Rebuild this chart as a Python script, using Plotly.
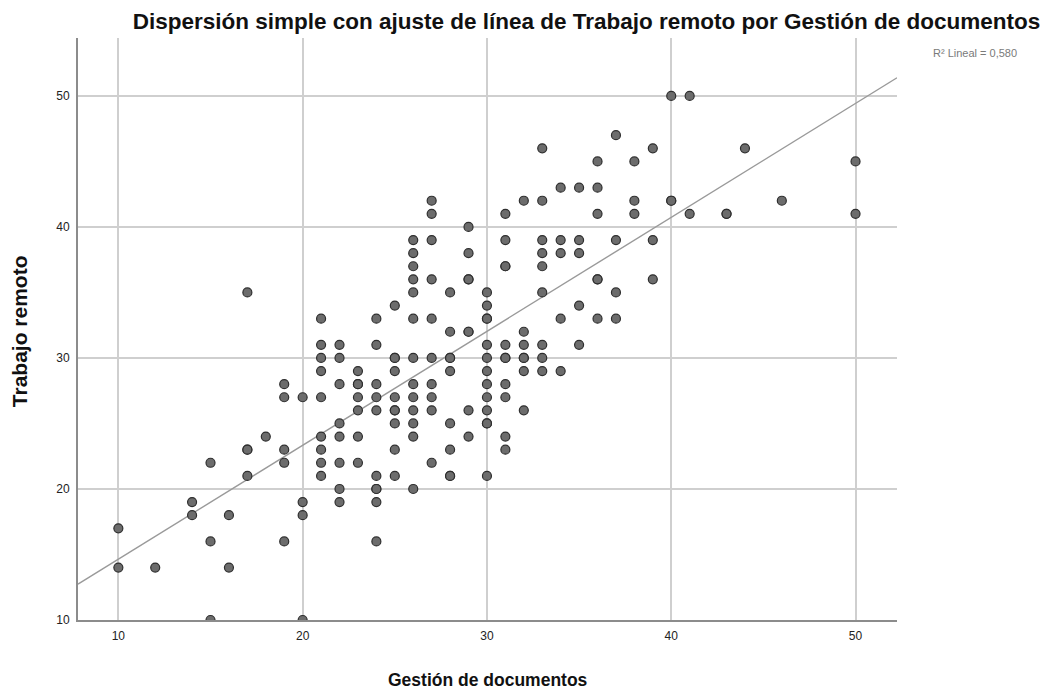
import numpy as np
import plotly.graph_objects as go

# Gestión de documentos (x) -> list of Trabajo remoto (y) values
gestion_cols = [10, 12, 14, 15, 16, 17, 18, 19, 20, 21, 22, 23, 24, 25, 26, 27, 28, 29, 30,
                31, 32, 33, 34, 35, 36, 37, 38, 39, 40, 41, 43, 44, 46, 50]
trabajo_vals = [
    [17, 14],
    [14],
    [19, 18],
    [22, 16, 10],
    [18, 14],
    [35, 23, 23, 21],
    [24],
    [28, 27, 23, 22, 16],
    [27, 19, 18, 10],
    [33, 31, 30, 29, 27, 24, 23, 22, 21],
    [31, 30, 28, 25, 24, 22, 20, 19],
    [29, 28, 28, 27, 26, 24, 22],
    [33, 31, 28, 27, 26, 21, 20, 20, 19, 16],
    [34, 30, 30, 29, 27, 26, 26, 25, 23, 21],
    [39, 38, 37, 36, 35, 33, 30, 28, 27, 26, 25, 24, 20],
    [42, 41, 39, 36, 33, 30, 28, 27, 26, 22],
    [35, 32, 30, 30, 29, 25, 23, 21, 21],
    [40, 38, 36, 36, 32, 32, 26, 24],
    [35, 34, 33, 33, 31, 30, 29, 28, 27, 26, 25, 25, 21],
    [41, 39, 37, 37, 31, 30, 30, 28, 27, 24, 23],
    [42, 32, 31, 30, 30, 29, 26],
    [46, 42, 39, 38, 37, 35, 31, 30, 29],
    [43, 39, 38, 33, 29],
    [43, 39, 38, 34, 31],
    [45, 43, 41, 36, 36, 33],
    [47, 39, 35, 33],
    [45, 42, 41],
    [46, 39, 36],
    [50, 42, 42],
    [50, 41],
    [41, 41],
    [46],
    [42],
    [45, 41],
]

x_ticks = [10, 20, 30, 40, 50]
y_ticks = [10, 20, 30, 40, 50]
title_text = "Dispersión simple con ajuste de línea de Trabajo remoto por Gestión de documentos"
x_title = "Gestión de documentos"
y_title = "Trabajo remoto"
r2_label = "R² Lineal = 0,580"

x = np.array([g for g, ys in zip(gestion_cols, trabajo_vals) for _ in ys], dtype=float)
y = np.array([v for ys in trabajo_vals for v in ys], dtype=float)

slope, intercept = np.polyfit(x, y, 1)

x_range = [7.81, 52.25]
y_range = [10, 54.42]
line_x = np.array(x_range)
line_y = slope * line_x + intercept

font_family = "Liberation Sans, Arial, sans-serif"

fig = go.Figure()
fig.add_trace(go.Scatter(
    x=line_x, y=line_y, mode="lines",
    line=dict(color="#9a9a9a", width=1.4),
    hoverinfo="skip", showlegend=False,
))
fig.add_trace(go.Scatter(
    x=x, y=y, mode="markers",
    marker=dict(size=9, color="#6c6c6c", line=dict(color="#2e2e2e", width=1.2)),
    showlegend=False, cliponaxis=True,
))

fig.update_layout(
    width=1055, height=689,
    margin=dict(l=78, r=158, t=38, b=69),
    paper_bgcolor="white", plot_bgcolor="white",
    font=dict(family=font_family, color="#222222"),
    title=dict(text="<b>" + title_text + "</b>", x=586.5 / 1055, xref="container", xanchor="center",
               y=1 - 21 / 689, yref="container", yanchor="middle",
               font=dict(size=22.5, color="#111111", family=font_family)),
    xaxis=dict(range=x_range, tickvals=x_ticks, showgrid=True, gridcolor="#cfcfcf", gridwidth=1.5,
               zeroline=False, showline=True, linecolor="#8c8c8c", linewidth=2,
               ticks="", tickfont=dict(size=12, color="#222222"), ticklabelstandoff=4),
    yaxis=dict(range=y_range, tickvals=y_ticks, showgrid=True, gridcolor="#cfcfcf", gridwidth=1.5,
               zeroline=False, showline=True, linecolor="#8c8c8c", linewidth=2,
               ticks="", tickfont=dict(size=12, color="#222222"), ticklabelstandoff=4),
    annotations=[
        dict(text=r2_label, xref="paper", yref="paper", x=1.0413, y=0.974,
             xanchor="left", yanchor="middle", showarrow=False,
             font=dict(size=11, color="#7a7a7a", family=font_family)),
        dict(text="<b>" + x_title + "</b>", xref="paper", yref="paper", x=0.5, y=-0.103,
             xanchor="center", yanchor="middle", showarrow=False,
             font=dict(size=17.5, color="#111111", family=font_family)),
        dict(text="<b>" + y_title + "</b>", xref="paper", yref="paper", x=-0.0715, y=0.497,
             xanchor="center", yanchor="middle", showarrow=False, textangle=-90,
             font=dict(size=21, color="#111111", family=font_family)),
    ],
)

fig.write_html("out.html", config={"displayModeBar": False},
               post_script="document.body.style.margin='0';")
